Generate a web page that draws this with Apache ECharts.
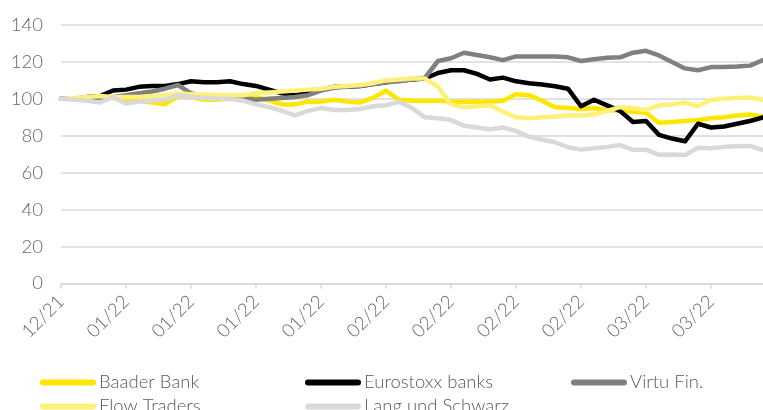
<!DOCTYPE html>
<html>
<head>
<meta charset="utf-8">
<script src="https://cdn.jsdelivr.net/npm/echarts@6/dist/echarts.min.js"></script>
<style>
html,body{margin:0;padding:0;background:#fff;}
#chart{width:763px;height:410px;}
</style>
</head>
<body>
<div id="chart"></div>
<script>
// Categories: trading days 31 Dec 2021 .. 17 Mar 2022, labelled MM/YY
const categories = [
  "12/21",
  "01/22","01/22","01/22","01/22","01/22","01/22","01/22","01/22","01/22","01/22",
  "01/22","01/22","01/22","01/22","01/22","01/22","01/22","01/22","01/22","01/22","01/22",
  "02/22","02/22","02/22","02/22","02/22","02/22","02/22","02/22","02/22","02/22",
  "02/22","02/22","02/22","02/22","02/22","02/22","02/22","02/22","02/22","02/22",
  "03/22","03/22","03/22","03/22","03/22","03/22","03/22","03/22","03/22","03/22","03/22","03/22","03/22"
];
const seriesNames = ["Baader Bank","Eurostoxx banks","Virtu Fin.","Flow Traders","Lang und Schwarz"];
const baader = [100,100,100.5,101,100.5,99.5,99,98,97,101.5,101,99.5,99.5,100,101,101,99,97,97,98.5,98.5,99.5,98.5,98,100.5,104.5,99.5,99,99,99,98.5,98.5,98.5,98.5,99,102.5,102,99,95.5,95,94.5,95,94,93.5,93,92.5,87,87.5,88,88.5,89.5,90,91,91.5,90.5];
const eurostoxx = [100,100,101,101.5,104.5,105,106.5,107,107,108,109.5,109,109,109.5,108,107,105,103,102,103,105,106.5,106.5,107,108,109,110,110.5,111,114,115.5,115.5,113.5,110.5,111.5,109.5,108.5,107.8,106.8,105.5,96,99.5,96.5,93.5,87.5,88,80.5,78.5,77,86.5,84.5,85,86.5,88,90];
const virtu = [100,100,100,100.5,101,102,103,104,105.5,107.5,103,101.5,101.5,101,100.5,99.5,100,100.5,101,102,104.5,106,106.5,107,108,109,109.5,110.5,111.5,120.5,122,125,123.8,122.5,121,123,123,123,123,122.5,120.5,121.5,122.3,122.5,125,126,123.5,120,116.5,115.5,117.2,117.3,117.5,118,121];
const flow = [100,100.5,101,101.5,101,101,101,101.5,102,103,102.5,102.5,102,102,102,103,103.5,104,104.5,105,105.5,106.5,107,107.5,108.5,110,110.5,111,111,106.5,97,95.5,96,96.5,93,90,89.5,90,90.5,91,91,91.5,93.5,95.5,95,94,96.5,97,98,96,99.5,100,100.5,100.7,99.5];
const lang = [100,99.5,99,98,101,97.5,98.5,99,99.5,102,101,100.5,100,100,99,97,95.5,93.5,91,93.5,95,94,94,94.5,96,96.5,98.5,95,90,89.5,88.5,85.5,84.5,83.5,84.5,82.5,79.5,78,76.5,73.8,72.5,73.3,74,75,72.4,72.5,69.7,69.8,69.6,73.5,73.3,74,74.3,74.5,72.3];
const yTicks = {min: 0, max: 140, interval: 20};

const values = [baader, eurostoxx, virtu, flow, lang];
const colors = ["#FFE600", "#000000", "#808080", "#FFF07A", "#D9D9D9"];
const FONT = "Lato, 'Open Sans', sans-serif";

const legendPos = [
  {left: 40, top: 373},
  {left: 305, top: 373},
  {left: 571, top: 373},
  {left: 40, top: 397},
  {left: 305, top: 397}
];
const iconPath = 'path://M3,0 L53,0 A3,3 0 0 1 53,6 L3,6 A3,3 0 0 1 3,0 Z';

const chart = echarts.init(document.getElementById('chart'), null, {renderer: 'canvas'});
chart.setOption({
  animation: false,
  backgroundColor: '#ffffff',
  grid: {left: 61, right: 0, top: 25, bottom: 126.5, containLabel: false},
  legend: seriesNames.map((n, i) => ({
    data: [n],
    left: legendPos[i].left,
    top: legendPos[i].top,
    icon: iconPath,
    itemWidth: 56,
    itemHeight: 6,
    itemGap: 0,
    padding: 0,
    textStyle: {color: '#595959', fontSize: 18.5, fontFamily: FONT, fontWeight: 300, padding: [0, 0, 0, -2]}
  })),
  xAxis: {
    type: 'category',
    data: categories,
    boundaryGap: false,
    axisLine: {lineStyle: {color: '#d9d9d9', width: 1.5}},
    axisTick: {show: true, interval: 4, length: 5, lineStyle: {color: '#d9d9d9', width: 1.5}},
    axisLabel: {interval: 4, rotate: 45, margin: 15, color: '#666666', fontSize: 18.5, fontFamily: FONT, fontWeight: 300},
    splitLine: {show: false}
  },
  yAxis: {
    type: 'value',
    min: yTicks.min, max: yTicks.max, interval: yTicks.interval,
    axisLine: {show: false},
    axisTick: {show: false},
    axisLabel: {margin: 18, color: '#666666', fontSize: 18.5, fontFamily: FONT, fontWeight: 300},
    splitLine: {lineStyle: {color: '#d9d9d9', width: 1.5}}
  },
  series: seriesNames.map((n, i) => ({
    name: n,
    type: 'line',
    data: values[i],
    symbol: 'none',
    smooth: false,
    color: colors[i],
    lineStyle: {color: colors[i], width: 4.5, cap: 'round', join: 'round'}
  }))
});
</script>
</body>
</html>
